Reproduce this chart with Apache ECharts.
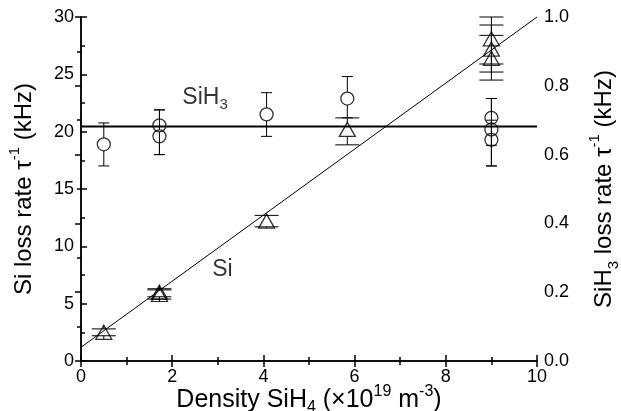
<!DOCTYPE html>
<html>
<head>
<meta charset="utf-8">
<script src="https://cdn.jsdelivr.net/npm/echarts@6/dist/echarts.min.js"></script>
<style>html,body{margin:0;padding:0;background:#fff}#chart{width:621px;height:411px}</style>
</head>
<body>
<div id="chart"></div>
<script>
// Si 损失率 (三角), 左轴 kHz
const siX = [0.5, 1.72, 1.72, 4.07, 5.84, 9.0, 9.0, 9.0]
const siY = [2.5, 6.0, 5.8, 12.2, 20.2, 28.1, 27.2, 26.4]
const siLow = [2.2, 5.6, 5.4, 11.7, 18.85, 25.9, 25.2, 24.5]
const siHigh = [2.8, 6.3, 6.2, 12.7, 21.2, 30.0, 29.3, 28.4]

// SiH3 损失率 (圆), 右轴 kHz
const sih3X = [0.5, 1.72, 1.72, 4.07, 5.84, 9.0, 9.0, 9.0]
const sih3Y = [0.630, 0.685, 0.653, 0.717, 0.763, 0.707, 0.673, 0.643]
const sih3Low = [0.567, 0.600, 0.600, 0.653, 0.707, 0.627, 0.567, 0.567]
const sih3High = [0.692, 0.730, 0.730, 0.780, 0.827, 0.763, 0.763, 0.700]

// 拟合线
const siFitX = [0, 10]
const siFitY = [1.2, 30]
const sih3FitX = [0, 10]
const sih3FitY = [0.682, 0.682]

// 图中文字
const noteText = ['SiH{sub|3}', 'Si']
const noteX = [2.72, 3.1]
const noteY = [23.0, 8.0]

const xTicks = [0, 2, 4, 6, 8, 10]

const font = 'Liberation Sans, Arial, sans-serif'

const zip = (a, b) => a.map((v, i) => [v, b[i]])
const errData = (x, lo, hi, c) => x.map((v, i) => [v, lo[i], hi[i], c[i]])

const errRender = (capW, gap) => (params, api) => {
    const x = api.value(0)
    const pLo = api.coord([x, api.value(1)])
    const pHi = api.coord([x, api.value(2)])
    const pC = api.coord([x, api.value(3)])
    const st = { stroke: '#000', lineWidth: 1 }
    const kids = [
        { type: 'line', shape: { x1: pHi[0], y1: pHi[1], x2: pHi[0], y2: Math.min(pC[1] - gap, pLo[1]) }, style: st },
        { type: 'line', shape: { x1: pLo[0], y1: Math.max(pC[1] + gap, pHi[1]), x2: pLo[0], y2: pLo[1] }, style: st },
        { type: 'line', shape: { x1: pHi[0] - capW / 2, y1: pHi[1], x2: pHi[0] + capW / 2, y2: pHi[1] }, style: st },
        { type: 'line', shape: { x1: pLo[0] - capW / 2, y1: pLo[1], x2: pLo[0] + capW / 2, y2: pLo[1] }, style: st }
    ]
    return { type: 'group', children: kids }
}

const axisCommon = {
    type: 'value',
    splitLine: { show: false },
    nameMoveOverlap: false,
    axisLine: { show: true, lineStyle: { color: '#000', width: 1.5 } },
    axisTick: { show: true, inside: true, length: 6, lineStyle: { color: '#000', width: 1.5 } },
    minorTick: { show: true, splitNumber: 2, length: 4, lineStyle: { color: '#000', width: 1.5 } },
    axisLabel: { color: '#000', fontSize: 18, fontFamily: font, margin: 7 }
}

const richTxt = {
    sup: { fontSize: 15, fontFamily: font, color: '#000', verticalAlign: 'top', lineHeight: 15 },
    sub: { fontSize: 15, fontFamily: font, color: '#000', verticalAlign: 'bottom', lineHeight: 15 }
}
const nameStyle = { fontSize: 24, fontFamily: font, color: '#000', lineHeight: 34, rich: richTxt }

const xRich = {
    sup: { fontSize: 16, fontFamily: font, color: '#000', verticalAlign: 'top', lineHeight: 14 },
    sub: { fontSize: 16, fontFamily: font, color: '#000', verticalAlign: 'bottom', lineHeight: 14 }
}
const xNameStyle = { fontSize: 25, fontFamily: font, color: '#000', lineHeight: 32, rich: xRich }

const myChart = echarts.init(document.getElementById('chart'))
myChart.setOption({
    animation: false,
    grid: { left: 81, right: 84, top: 17, bottom: 50, containLabel: false, outerBoundsMode: 'none' },
    xAxis: [
        Object.assign({}, axisCommon, {
            min: 0, max: 10, interval: 2, position: 'bottom',
            name: 'Density SiH{sub|4} (×10{sup|19} m{sup|-3})',
            nameLocation: 'middle', nameGap: 23, nameTextStyle: xNameStyle,
            axisLabel: Object.assign({}, axisCommon.axisLabel, {
                formatter: v => xTicks.includes(v) ? String(v) : ''
            })
        }),
        Object.assign({}, axisCommon, {
            min: 0, max: 10, interval: 2, position: 'top',
            axisLabel: { show: false }
        })
    ],
    yAxis: [
        Object.assign({}, axisCommon, {
            min: 0, max: 30, interval: 5, position: 'left',
            name: 'Si loss rate τ{sup|-1} (kHz)',
            nameLocation: 'middle', nameGap: 40, nameRotate: 90, nameTextStyle: nameStyle
        }),
        Object.assign({}, axisCommon, {
            min: 0, max: 1, interval: 0.2, position: 'right',
            name: 'SiH{sub|3} loss rate τ{sup|-1} (kHz)',
            nameLocation: 'middle', nameGap: 50, nameRotate: 90, nameTextStyle: nameStyle,
            axisLabel: Object.assign({}, axisCommon.axisLabel, { formatter: v => v.toFixed(1) })
        })
    ],
    series: [
        {
            type: 'custom', xAxisIndex: 0, yAxisIndex: 1,
            renderItem: errRender(11, 6.5),
            encode: { x: 0, y: [1, 2, 3] },
            data: errData(sih3X, sih3Low, sih3High, sih3Y), z: 2
        },
        {
            type: 'custom', xAxisIndex: 0, yAxisIndex: 0,
            renderItem: errRender(24, 7),
            encode: { x: 0, y: [1, 2, 3] },
            data: errData(siX, siLow, siHigh, siY), z: 2
        },
        {
            type: 'scatter', xAxisIndex: 0, yAxisIndex: 1,
            symbol: 'circle', symbolSize: 13,
            itemStyle: { color: 'rgba(0,0,0,0)', borderColor: '#000', borderWidth: 1.3 },
            emphasis: { disabled: true },
            data: zip(sih3X, sih3Y), z: 3
        },
        {
            type: 'scatter', xAxisIndex: 0, yAxisIndex: 0,
            symbol: 'triangle', symbolSize: [16, 14],
            itemStyle: { color: 'rgba(0,0,0,0)', borderColor: '#000', borderWidth: 1.3 },
            emphasis: { disabled: true },
            data: zip(siX, siY), z: 3
        },
        {
            type: 'line', xAxisIndex: 0, yAxisIndex: 1,
            showSymbol: false, lineStyle: { color: '#000', width: 2 },
            data: zip(sih3FitX, sih3FitY), z: 4
        },
        {
            type: 'line', xAxisIndex: 0, yAxisIndex: 0,
            showSymbol: false, lineStyle: { color: '#000', width: 1 },
            data: zip(siFitX, siFitY), z: 4
        },
        {
            type: 'scatter', xAxisIndex: 0, yAxisIndex: 0,
            symbolSize: 0,
            label: {
                show: true, position: 'inside',
                formatter: p => noteText[p.dataIndex],
                fontSize: 23, fontFamily: font, color: '#000', lineHeight: 30, rich: richTxt
            },
            data: zip(noteX, noteY), z: 5
        }
    ]
})
</script>
</body>
</html>
